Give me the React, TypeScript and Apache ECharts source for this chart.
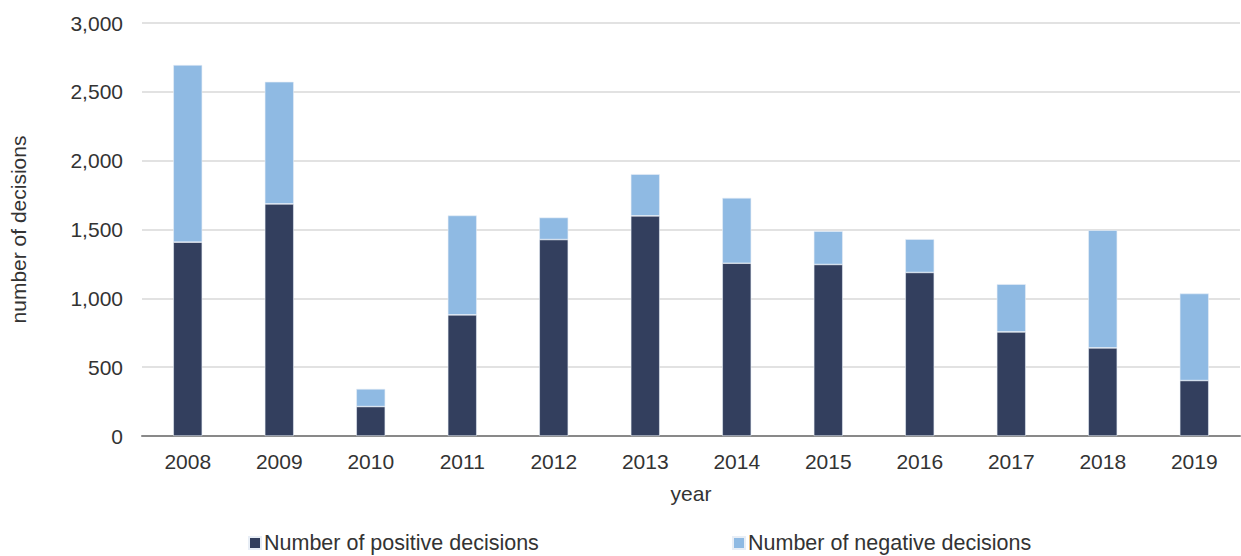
import React, { useEffect, useRef } from "react";
import * as echarts from "echarts";

const years = ["2008", "2009", "2010", "2011", "2012", "2013", "2014", "2015", "2016", "2017", "2018", "2019"];
const positiveDecisions = [1408, 1686, 214, 880, 1427, 1599, 1255, 1246, 1188, 756, 640, 403];
const negativeDecisions = [1287, 887, 128, 722, 160, 303, 475, 242, 242, 347, 855, 632];
const yTicks = { min: 0, max: 3000, interval: 500 };

const FONT = "Liberation Sans, Arial, sans-serif";
const TEXT = "#333333";
const FS = 21;

export default function App() {
  const ref = useRef<HTMLDivElement>(null);
  useEffect(() => {
    if (!ref.current) return;
    const chart = echarts.init(ref.current, undefined, { renderer: "svg" });
    chart.setOption({
      animation: false,
      textStyle: { fontFamily: FONT },
      grid: { left: 141, right: 1, top: 23, bottom: 120, containLabel: false },
      legend: [
        {
          data: ["Number of positive decisions"],
          left: 243,
          top: 527,
          icon: "rect",
          itemWidth: 12,
          itemHeight: 12,
          itemGap: 4,
          textStyle: { fontSize: 21.5, color: TEXT, fontFamily: FONT, padding: [0, 0, 0, -2] },
        },
        {
          data: ["Number of negative decisions"],
          left: 727,
          top: 527,
          icon: "rect",
          itemWidth: 12,
          itemHeight: 12,
          itemGap: 4,
          textStyle: { fontSize: 21.5, color: TEXT, fontFamily: FONT, padding: [0, 0, 0, -2] },
        },
      ],
      xAxis: {
        type: "category",
        data: years,
        name: "year",
        nameLocation: "middle",
        nameGap: 47,
        nameTextStyle: { fontSize: FS, color: TEXT, fontFamily: FONT },
        axisTick: { show: false },
        axisLine: { lineStyle: { color: "#898989", width: 2 } },
        axisLabel: { fontSize: FS, color: TEXT, margin: 15, fontFamily: FONT },
      },
      yAxis: {
        type: "value",
        min: yTicks.min,
        max: yTicks.max,
        interval: yTicks.interval,
        name: "number of decisions",
        nameLocation: "middle",
        nameGap: 113,
        nameTextStyle: { fontSize: FS, color: TEXT, fontFamily: FONT },
        axisLine: { show: false },
        axisTick: { show: false },
        axisLabel: {
          fontSize: FS,
          color: TEXT,
          margin: 19,
          fontFamily: FONT,
          formatter: (v: number) => v.toLocaleString("en-US"),
        },
        splitLine: { lineStyle: { color: "#d9d9d9", width: 1.5 } },
      },
      series: [
        {
          name: "Number of positive decisions",
          type: "bar",
          stack: "total",
          data: positiveDecisions,
          barWidth: 29,
          itemStyle: { color: "#333f5e", borderColor: "#e8eef6", borderWidth: 0.6 },
        },
        {
          name: "Number of negative decisions",
          type: "bar",
          stack: "total",
          data: negativeDecisions,
          barWidth: 29,
          itemStyle: { color: "#8fbae3", borderColor: "#e8eef6", borderWidth: 0.6 },
        },
      ],
    });
    return () => chart.dispose();
  }, []);
  return <div ref={ref} style={{ position: "absolute", left: 0, top: 0, width: 1241, height: 556 }} />;
}
